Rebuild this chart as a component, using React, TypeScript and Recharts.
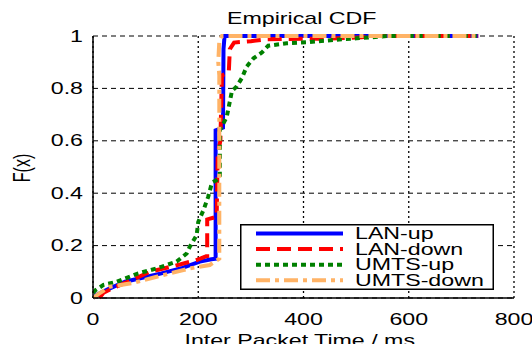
import React from 'react';
import { LineChart, Line, XAxis, YAxis, CartesianGrid, Legend } from 'recharts';

const xTicks = [0, 200, 400, 600, 800];
const yTicks = [0, 0.2, 0.4, 0.6, 0.8, 1];

const lanUp = [
  { x: 0, y: 0 }, { x: 5, y: 0.01 }, { x: 30, y: 0.035 }, { x: 61, y: 0.062 }, { x: 100, y: 0.08 },
  { x: 130, y: 0.094 }, { x: 170, y: 0.115 }, { x: 203, y: 0.139 }, { x: 225, y: 0.148 }, { x: 233, y: 0.15 },
  { x: 233, y: 0.64 }, { x: 247, y: 0.65 }, { x: 248, y: 0.95 }, { x: 250, y: 1 }, { x: 732, y: 1 },
];
const lanDown = [
  { x: 12, y: 0 }, { x: 20, y: 0.02 }, { x: 40, y: 0.04 }, { x: 70, y: 0.065 }, { x: 108, y: 0.1 },
  { x: 150, y: 0.12 }, { x: 197, y: 0.145 }, { x: 213, y: 0.158 }, { x: 217, y: 0.16 }, { x: 217, y: 0.3 },
  { x: 235, y: 0.31 }, { x: 237, y: 0.55 }, { x: 242, y: 0.6 }, { x: 245, y: 0.85 }, { x: 258, y: 0.86 },
  { x: 260, y: 0.95 }, { x: 268, y: 0.975 }, { x: 300, y: 0.98 }, { x: 330, y: 0.988 }, { x: 450, y: 0.99 },
  { x: 510, y: 0.995 }, { x: 530, y: 1 }, { x: 732, y: 1 },
];
const umtsUp = [
  { x: 0, y: 0.02 }, { x: 5, y: 0.03 }, { x: 20, y: 0.05 }, { x: 45, y: 0.062 }, { x: 86, y: 0.094 },
  { x: 121, y: 0.113 }, { x: 159, y: 0.139 }, { x: 178, y: 0.17 }, { x: 184, y: 0.196 }, { x: 197, y: 0.24 },
  { x: 200, y: 0.29 }, { x: 210, y: 0.336 }, { x: 219, y: 0.387 }, { x: 226, y: 0.44 }, { x: 235, y: 0.45 },
  { x: 241, y: 0.46 }, { x: 241, y: 0.64 }, { x: 254, y: 0.69 }, { x: 260, y: 0.75 }, { x: 264, y: 0.79 },
  { x: 273, y: 0.807 }, { x: 283, y: 0.84 }, { x: 292, y: 0.883 }, { x: 305, y: 0.915 }, { x: 321, y: 0.937 },
  { x: 333, y: 0.963 }, { x: 368, y: 0.972 }, { x: 406, y: 0.976 }, { x: 457, y: 0.985 }, { x: 501, y: 0.991 },
  { x: 560, y: 1 }, { x: 732, y: 1 },
];
const umtsDown = [
  { x: 0, y: 0 }, { x: 10, y: 0.015 }, { x: 32, y: 0.043 }, { x: 73, y: 0.056 }, { x: 121, y: 0.081 },
  { x: 184, y: 0.113 }, { x: 222, y: 0.126 }, { x: 232, y: 0.139 }, { x: 240, y: 0.15 }, { x: 240, y: 0.85 },
  { x: 238, y: 0.9 }, { x: 240, y: 0.98 }, { x: 245, y: 1 }, { x: 732, y: 1 },
];

const seriesNames = ['LAN-up', 'LAN-down', 'UMTS-up', 'UMTS-down'];
const seriesColors = ['#0000ff', '#ff0000', '#008000', '#ffb366'];
const seriesDash = ['', '14 7', '5 4', '14 5 4 5'];
const seriesData = [lanUp, lanDown, umtsUp, umtsDown];

const FONT = '"Liberation Sans", Arial, sans-serif';
const SX = 1.45;

const fmt = (v: number) => (v === 0 ? '0' : v === 1 ? '1' : String(v));

const YTick = (props: any) => {
  const { x, y, payload } = props;
  return (
    <text transform={`translate(${x},${y}) scale(${SX},1)`} textAnchor="end" dominantBaseline="central"
      fontSize={16} fill="#000" fontFamily={FONT}>{fmt(payload.value)}</text>
  );
};

const XTick = (props: any) => {
  const { x, y, payload } = props;
  return (
    <text transform={`translate(${x},${y + 21}) scale(${SX},1)`} textAnchor="middle" dominantBaseline="central"
      fontSize={16} fill="#000" fontFamily={FONT}>{payload.value}</text>
  );
};

const LegendBox = () => (
  <svg width={254} height={66} style={{ display: 'block' }}>
    <rect x={0.75} y={0.75} width={252.5} height={64.5} fill="#fff" stroke="#000" strokeWidth={1.5} />
    {seriesNames.map((n, i) => {
      const y = 9.5 + i * 15.6;
      return (
        <g key={n}>
          <line x1={16} x2={103} y1={y} y2={y} stroke={seriesColors[i]} strokeWidth={4}
            strokeDasharray={seriesDash[i] || undefined} />
          <text transform={`translate(115,${y}) scale(${SX},1)`} dominantBaseline="central" fontSize={16}
            fill="#000" fontFamily={FONT}>{n}</text>
        </g>
      );
    })}
  </svg>
);

export default function App() {
  return (
    <div style={{ position: 'absolute', left: 0, top: 0, width: 532, height: 344, background: '#fff' }}>
      <LineChart width={532} height={344} margin={{ top: 36, right: 18, bottom: 0, left: 0 }}>
        <CartesianGrid horizontal vertical={false} stroke="#000" strokeDasharray="5 4" strokeWidth={1} />
        <CartesianGrid horizontal={false} vertical stroke="#000" strokeDasharray="2 3" strokeWidth={1.3} />
        <XAxis dataKey="x" type="number" domain={[0, 800]} ticks={xTicks} allowDataOverflow
          height={46} tickSize={0} tickMargin={0} tick={<XTick />} axisLine={{ stroke: '#000', strokeWidth: 1.5 }} />
        <YAxis type="number" domain={[0, 1]} ticks={yTicks} width={93} tickSize={0} tickMargin={10}
          tick={<YTick />} axisLine={{ stroke: '#000', strokeWidth: 1.5 }} />
        {seriesData.map((d, i) => (
          <Line key={seriesNames[i]} data={d} dataKey="y" name={seriesNames[i]} type="linear"
            stroke={seriesColors[i]} strokeWidth={4} strokeDasharray={seriesDash[i] || undefined}
            dot={false} activeDot={false} isAnimationActive={false} />
        ))}
        <Legend layout="vertical" align="center" verticalAlign="middle" content={<LegendBox />}
          wrapperStyle={{ left: 240, top: 224, width: 254, height: 66 }} />
      </LineChart>
      <svg width={532} height={344} style={{ position: 'absolute', left: 0, top: 0, pointerEvents: 'none' }}>
        <text transform={`translate(301.7,23.5) scale(${SX},1)`} textAnchor="middle" fontSize={16}
          fill="#000" fontFamily={FONT}>Empirical CDF</text>
        <text transform={`translate(299.7,345.5) scale(${SX},1)`} textAnchor="middle" fontSize={16}
          fill="#000" fontFamily={FONT}>Inter Packet Time / ms</text>
        <text transform={`translate(22,168) scale(${SX},1) rotate(-90)`} textAnchor="middle"
          dominantBaseline="central" fontSize={16} fill="#000" fontFamily={FONT}>F(x)</text>
      </svg>
    </div>
  );
}
